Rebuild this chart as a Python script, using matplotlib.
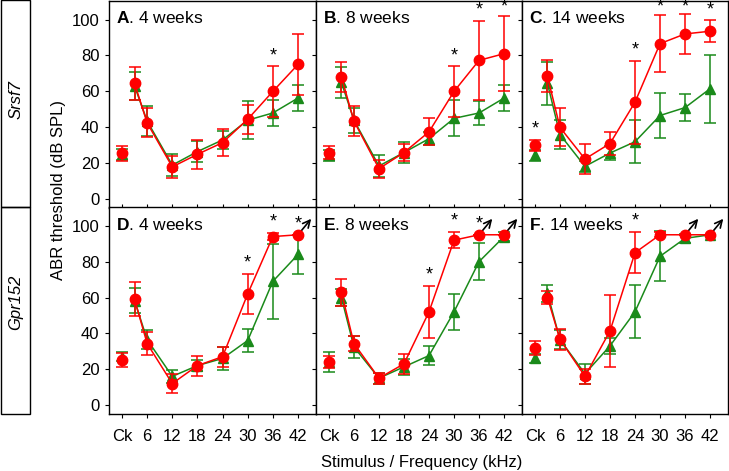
import matplotlib
matplotlib.use('Agg')
import matplotlib.pyplot as plt
import matplotlib.transforms as mtransforms
from matplotlib.patches import Rectangle

plt.rcParams['font.family'] = ['Liberation Sans', 'DejaVu Sans']
plt.rcParams['mathtext.fontset'] = 'custom'
plt.rcParams['mathtext.bf'] = 'Liberation Sans:bold'
plt.rcParams['mathtext.rm'] = 'Liberation Sans'

# x positions: Ck drawn at 0, then 3 kHz ... 42 kHz
freqs = [0, 3, 6, 12, 18, 24, 30, 36, 42]
tick_pos = [0, 6, 12, 18, 24, 30, 36, 42]
tick_labels = ['Ck', '6', '12', '18', '24', '30', '36', '42']

# ---- Srsf7 ----
a_ko = [25.5, 64.5, 42.5, 18, 25, 31.5, 44.5, 60, 75]
a_ko_err = [4, 9, 8, 6, 8, 7.5, 8, 14, 17]
a_wt = [25, 63, 43.5, 19, 26.5, 33, 44, 48, 56.3]
a_wt_err = [3, 8, 8.5, 6, 6, 5, 10.5, 7.3, 7]
a_stars = [36]

b_ko = [26, 68, 43.5, 17, 26, 37.5, 60, 77.3, 81]
b_ko_err = [3.5, 8.5, 8.5, 5, 4.5, 7.5, 14, 22, 21]
b_wt = [24.5, 65, 44, 18.5, 26, 33.7, 45, 48, 56.3]
b_wt_err = [3, 8.5, 7, 6, 6, 3.5, 10, 6.5, 7]
b_stars = [30, 36, 42]

c_ko = [30, 68.5, 40, 22.4, 31, 54, 86.6, 92, 93.5]
c_ko_err = [3, 9, 10.5, 8.5, 6.5, 23, 16, 11, 6]
c_wt = [24.4, 64.5, 36, 18.3, 25.7, 32, 46.6, 51, 61.5]
c_wt_err = [3, 12, 8, 3, 4, 12, 12.5, 7.5, 19]
c_stars = [0, 24, 30, 36, 42]

# ---- Gpr152 ----
d_ko = [25, 59, 34.3, 12, 22, 27, 62, 94, 95]
d_ko_err = [4, 9.5, 6.3, 5.5, 5.6, 5.5, 11, 2, 0]
d_wt = [27, 58.3, 36.5, 16, 22, 26, 36, 69, 84]
d_wt_err = [2.5, 7, 5.5, 3.7, 3, 6.5, 6.5, 21, 11]
d_stars = [30, 36, 42]
d_arrows = [42]

e_ko = [24, 63, 34.3, 15, 23, 52, 92, 95, 95]
e_ko_err = [3.5, 7.5, 4, 3, 5.5, 14.5, 4.5, 0, 0]
e_wt = [24, 60, 32.4, 15, 21.3, 27.6, 52, 80, 94]
e_wt_err = [5.5, 4.5, 6, 3, 4.5, 5.5, 10, 10.5, 2.5]
e_stars = [24, 30, 36]
e_arrows = [36, 42]

f_ko = [32, 60, 36.7, 16, 41.3, 85, 95, 95, 95]
f_ko_err = [4, 3.7, 5.8, 4, 20, 11.5, 1.5, 0, 0]
f_wt = [26, 62.4, 36.5, 17.5, 33, 52, 83, 93, 95]
f_wt_err = [2.5, 4.7, 5.5, 5.5, 4.3, 14.7, 14, 2.5, 0]
f_stars = [24]
f_arrows = [36, 42]

panels = [
    ('A', '4 weeks', a_ko, a_ko_err, a_wt, a_wt_err, a_stars, []),
    ('B', '8 weeks', b_ko, b_ko_err, b_wt, b_wt_err, b_stars, []),
    ('C', '14 weeks', c_ko, c_ko_err, c_wt, c_wt_err, c_stars, []),
    ('D', '4 weeks', d_ko, d_ko_err, d_wt, d_wt_err, d_stars, d_arrows),
    ('E', '8 weeks', e_ko, e_ko_err, e_wt, e_wt_err, e_stars, e_arrows),
    ('F', '14 weeks', f_ko, f_ko_err, f_wt, f_wt_err, f_stars, f_arrows),
]

RED = '#ff0000'
GREEN = '#1a8a1a'
W, H = 729, 471

fig = plt.figure(figsize=(7.29, 4.71), dpi=100)
lefts = [109, 316, 522, 728]
tops = [0.5, 207]

def draw(ax, y, err, color, marker, z):
    kw = dict(color=color, marker=marker, ms=7.5, lw=1.1, elinewidth=1.1,
              capsize=4.3, capthick=1.1, zorder=z)
    ax.errorbar(freqs[1:], y[1:], yerr=err[1:], **kw)
    ax.errorbar(freqs[:1], y[:1], yerr=err[:1], ls='none', **kw)

for i, (letter, title, ko, ko_err, wt, wt_err, stars, arrows) in enumerate(panels):
    r, c = divmod(i, 3)
    x0, x1 = lefts[c], lefts[c + 1]
    ax = fig.add_axes([x0 / W, 1 - (tops[r] + 207) / H, (x1 - x0) / W, 207 / H])

    draw(ax, wt, wt_err, GREEN, '^', 3)
    draw(ax, ko, ko_err, RED, 'o', 4)

    ymax = 107 if r == 0 else 103
    for s in stars:
        k = freqs.index(s)
        ax.text(s, min(ko[k] + ko_err[k] + 6, ymax), '*', ha='center',
                va='center', fontsize=13)

    trans = mtransforms.offset_copy(ax.transData, fig=fig, x=9.5, y=11.5,
                                    units='points')
    for a in arrows:
        k = freqs.index(a)
        ax.annotate('', xy=(a, ko[k]), xycoords=trans, xytext=(a, ko[k]),
                    textcoords='data', zorder=2,
                    arrowprops=dict(arrowstyle='->', color='black', lw=1.2,
                                    shrinkA=0, shrinkB=0, mutation_scale=13))

    ax.text(0.034, 0.915, r'$\mathbf{%s}$. %s' % (letter, title),
            transform=ax.transAxes, fontsize=12.5, ha='left', va='center')

    ax.set_xlim(-3.1, 46.3)
    if r == 0:
        ax.set_ylim(-4.6, 110.6)
    else:
        ax.set_ylim(-5, 110.5)
    ax.set_yticks(range(0, 101, 20))
    ax.set_xticks(tick_pos)
    ax.tick_params(axis='y', direction='out', length=3, labelsize=12, pad=4)
    if r == 0:
        ax.tick_params(axis='x', direction='in', length=3, labelbottom=False)
    else:
        ax.set_xticklabels(tick_labels)
        ax.tick_params(axis='x', direction='out', length=3, labelsize=12, pad=8)
    if c > 0:
        ax.tick_params(axis='y', labelleft=False)
    for sp in ax.spines.values():
        sp.set_linewidth(1)

# row label boxes
fig.add_artist(Rectangle((1 / W, 1 - 207 / H), 29 / W, 207 / H,
                         transform=fig.transFigure, fill=False, lw=1))
fig.add_artist(Rectangle((1 / W, 1 - 414 / H), 29 / W, 207 / H,
                         transform=fig.transFigure, fill=False, lw=1))
fig.text(16 / W, 1 - 100 / H, 'Srsf7', rotation=90, style='italic',
         ha='center', va='center', fontsize=12)
fig.text(16 / W, 1 - 302 / H, 'Gpr152', rotation=90, style='italic',
         ha='center', va='center', fontsize=12)

fig.text(58 / W, 1 - 190 / H, 'ABR threshold (dB SPL)', rotation=90,
         ha='center', va='center', fontsize=12)
fig.text(422 / W, 1 - 462 / H, 'Stimulus / Frequency (kHz)',
         ha='center', va='center', fontsize=12)

fig.savefig('out.png', dpi=100)
